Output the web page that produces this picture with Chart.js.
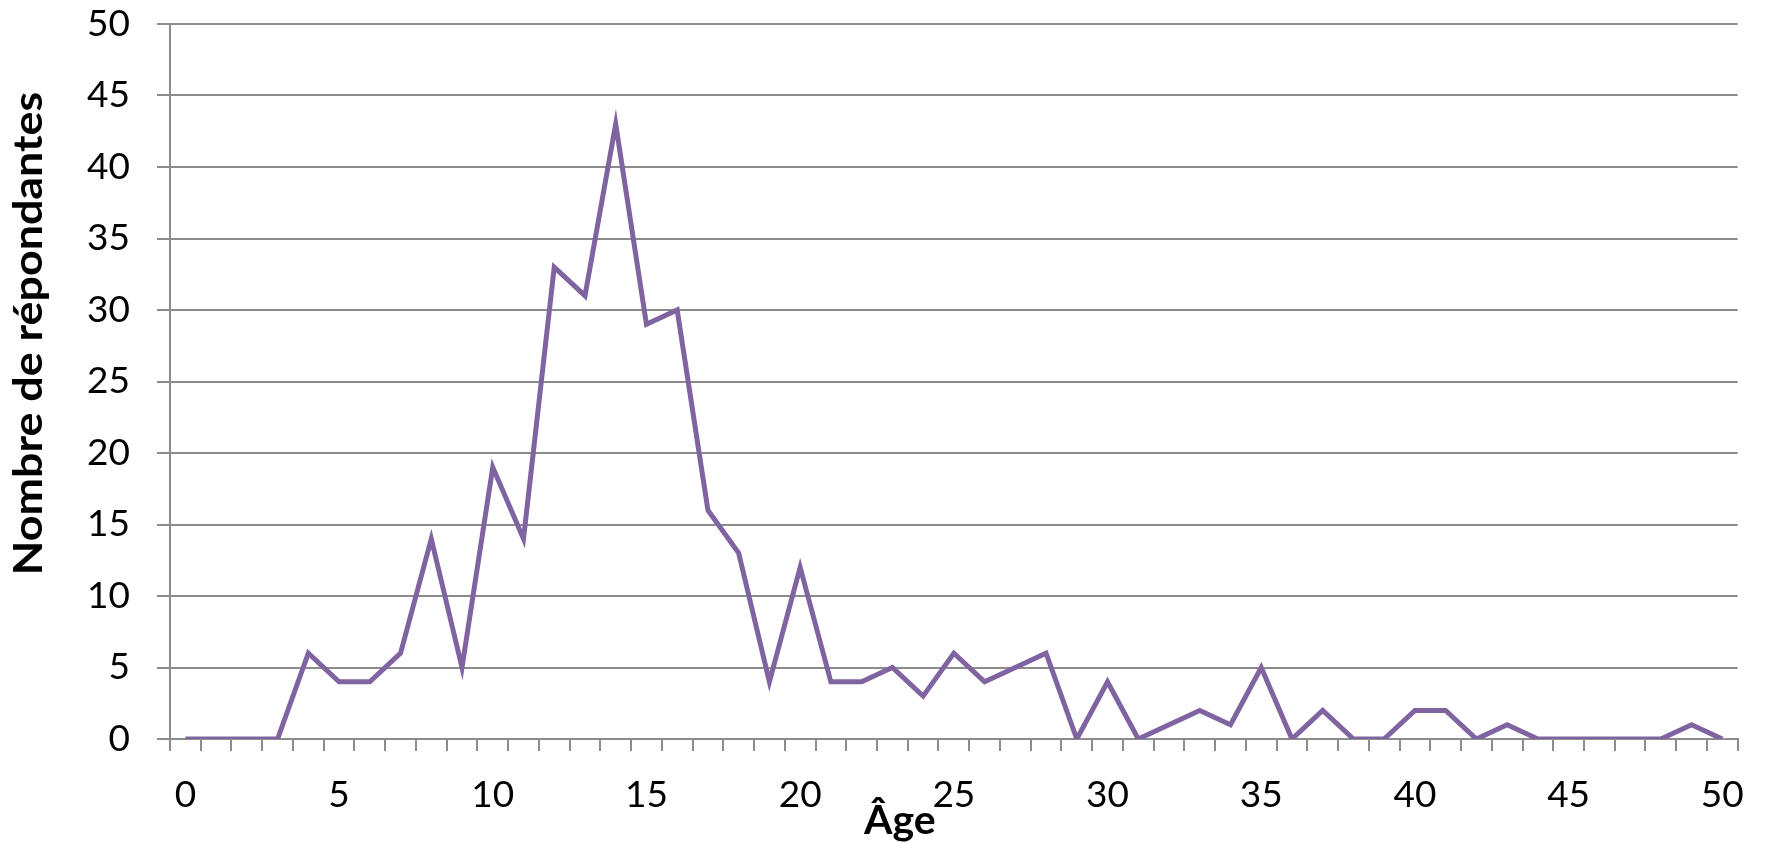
<!DOCTYPE html>
<html><head><meta charset="utf-8">
<script src="https://cdn.jsdelivr.net/npm/chart.js@4"></script>
<style>html,body{margin:0;padding:0;background:#fff;} #wrap{width:1766px;height:843px;position:relative;}</style>
</head><body><div id="wrap"><canvas id="c"></canvas></div>
<script>
const ages = ['0','1','2','3','4','5','6','7','8','9','10','11','12','13','14','15','16','17','18','19','20','21','22','23','24','25','26','27','28','29','30','31','32','33','34','35','36','37','38','39','40','41','42','43','44','45','46','47','48','49','50'];
const respondents = [0,0,0,0,6,4,4,6,14,5,19,14,33,31,43,29,30,16,13,4,12,4,4,5,3,6,4,5,6,0,4,0,1,2,1,5,0,2,0,0,2,2,0,1,0,0,0,0,0,1,0];
const xTickLabels = ['0','5','10','15','20','25','30','35','40','45','50'];
const yMin = 0, yMax = 50, yStep = 5;
const xTitle = 'Âge';
const yTitle = 'Nombre de répondantes';

const gridColor = '#8c8c8c';
const titlePlugin = {
  id: 'titles',
  afterDraw(chart) {
    const ctx = chart.ctx, a = chart.chartArea;
    ctx.save();
    ctx.fillStyle = '#000';
    ctx.font = 'bold 41px Lato';
    ctx.textAlign = 'center';
    ctx.textBaseline = 'alphabetic';
    ctx.fillText(xTitle, (a.left + a.right) / 2 - 54, chart.height - 9);
    ctx.restore();
    ctx.save();
    ctx.fillStyle = '#000';
    ctx.font = 'bold 40px Lato';
    ctx.textAlign = 'center';
    ctx.textBaseline = 'alphabetic';
    ctx.translate(42, (a.top + a.bottom) / 2 - 48);
    ctx.rotate(-Math.PI / 2);
    ctx.scale(1.12, 1);
    ctx.fillText(yTitle, 0, 0);
    ctx.restore();
  }
};

new Chart(document.getElementById('c'), {
  type: 'line',
  data: { labels: ages, datasets: [{ data: respondents, borderColor: '#8064A2', borderWidth: 5, pointRadius: 0, tension: 0, fill: false }] },
  plugins: [titlePlugin],
  options: {
    responsive: true, maintainAspectRatio: false, animation: false,
    layout: { padding: { top: 24, right: 23, left: 0, bottom: 0 } },
    plugins: { legend: { display: false }, tooltip: { enabled: false } },
    scales: {
      x: {
        type: 'category', offset: true,
        grid: { offset: true, drawOnChartArea: false, drawTicks: true, tickLength: 12, color: gridColor, lineWidth: 2 },
        border: { display: true, color: gridColor, width: 2 },
        ticks: { autoSkip: false, maxRotation: 0, minRotation: 0, padding: 22, color: '#000', font: { family: 'Lato', size: 37 },
          callback: function(v, i) { const l = ages[i]; return xTickLabels.includes(l) ? l : ''; } },
        afterFit(s) { s.height = 104; }
      },
      y: {
        min: yMin, max: yMax,
        grid: { color: gridColor, lineWidth: 2, tickLength: 13, drawTicks: true },
        border: { display: true, color: gridColor, width: 2 },
        ticks: { stepSize: yStep, padding: 27, color: '#000', font: { family: 'Lato', size: 37 } },
        afterFit(s) { s.width = 170; s.paddingTop = 0; s.paddingBottom = 0; }
      }
    }
  }
});
</script></body></html>
